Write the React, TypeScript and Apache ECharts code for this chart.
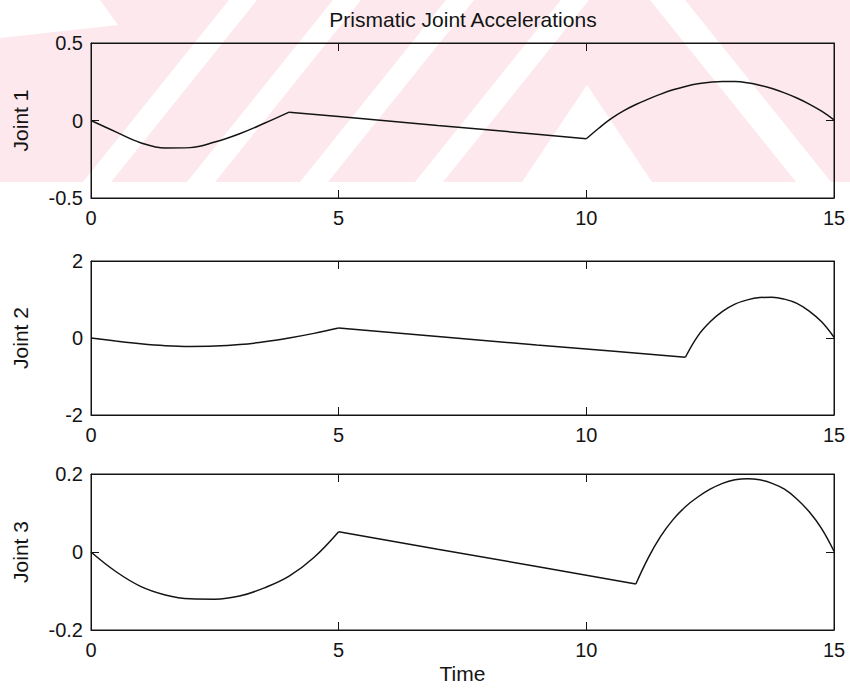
import React, { useEffect, useRef } from "react";
import * as echarts from "echarts";

// ---- data ----
const titleText = "Prismatic Joint Accelerations";
const jointNames = ["Joint 1", "Joint 2", "Joint 3"];
const xTicks = [0, 5, 10, 15];
const yLimits = [0.5, 2, 0.2];

const timeJ1 = [0, 0.5, 1, 1.5, 2, 2.5, 3, 3.5, 4, 5, 6, 7, 8, 9, 10, 10.25, 10.5, 10.75, 11, 11.25, 11.5, 11.75, 12, 12.25, 12.5, 12.75, 13, 13.25, 13.5, 13.75, 14, 14.25, 14.5, 14.75, 15];
const accJ1 = [0, -0.073, -0.143, -0.177, -0.175, -0.139, -0.085, -0.018, 0.054, 0.026, -0.003, -0.032, -0.06, -0.089, -0.118, -0.05, 0.012, 0.062, 0.103, 0.138, 0.17, 0.198, 0.22, 0.237, 0.247, 0.252, 0.251, 0.243, 0.228, 0.206, 0.178, 0.145, 0.106, 0.06, 0.004];
const kinksJ1 = [4, 10];

const timeJ2 = [0, 0.5, 1, 1.5, 2, 2.5, 3, 3.5, 4, 4.5, 5, 7, 9, 10.5, 12, 12.25, 12.5, 12.75, 13, 13.25, 13.5, 13.75, 14, 14.25, 14.5, 14.75, 15];
const accJ2 = [0, -0.08, -0.15, -0.2, -0.22, -0.21, -0.17, -0.1, 0.0, 0.12, 0.26, 0.04, -0.18, -0.34, -0.5, 0.05, 0.42, 0.69, 0.88, 0.99, 1.05, 1.06, 1.01, 0.9, 0.7, 0.42, 0.02];
const kinksJ2 = [5, 12];

const timeJ3 = [0, 0.5, 1, 1.5, 2, 2.5, 3, 3.5, 4, 4.5, 5, 7, 9, 11, 11.25, 11.5, 11.75, 12, 12.25, 12.5, 12.75, 13, 13.25, 13.5, 13.75, 14, 14.25, 14.5, 14.75, 15];
const accJ3 = [0, -0.05, -0.088, -0.11, -0.12, -0.121, -0.113, -0.092, -0.062, -0.014, 0.052, 0.007, -0.037, -0.082, -0.015, 0.04, 0.083, 0.116, 0.141, 0.161, 0.176, 0.185, 0.188, 0.185, 0.176, 0.161, 0.136, 0.103, 0.06, 0.002];
const kinksJ3 = [5, 11];

const times = [timeJ1, timeJ2, timeJ3];
const accs = [accJ1, accJ2, accJ3];
const kinks = [kinksJ1, kinksJ2, kinksJ3];

// ---- layout ----
const FONT = "'Liberation Sans', Arial, Helvetica, sans-serif";
const INK = "#141414";
const GRID_LEFT = 91;
const GRID_WIDTH = 743;
const gridTops = [43, 261, 474];
const gridHeights = [155, 154, 156];

function segments(t: number[], v: number[], k: number[]) {
  const pts = t.map((x, i) => [x, v[i]]);
  const a = pts.filter((p) => p[0] <= k[0]);
  const b = pts.filter((p) => p[0] >= k[0] && p[0] <= k[1]);
  const c = pts.filter((p) => p[0] >= k[1]);
  return [
    { data: a, smooth: 0.4 },
    { data: b, smooth: false },
    { data: c, smooth: 0.4 },
  ];
}

function watermark() {
  const pink = "#fde9ed";
  const white = "#ffffff";
  const els: any[] = [];
  els.push({ type: "rect", silent: true, z: -10, shape: { x: 0, y: 0, width: 850, height: 182 }, style: { fill: pink } });
  const poly = (pts: number[][]) =>
    els.push({ type: "polygon", silent: true, z: -9, shape: { points: pts }, style: { fill: white } });
  poly([[0, 0], [100, 0], [118, 25], [0, 38]]);
  [83, 187, 300, 415].forEach((b) => poly([[b, 182], [b + 28, 182], [b + 174, 0], [b + 146, 0]]));
  poly([[587, 85], [522, 182], [652, 182]]);
  poly([[650, 0], [685, 0], [831, 182], [796, 182]]);
  return els;
}

export default function App() {
  const ref = useRef<HTMLDivElement>(null);
  useEffect(() => {
    if (!ref.current) return;
    const chart = echarts.init(ref.current, undefined, { renderer: "svg" });
    const grids = gridTops.map((top, i) => ({
      left: GRID_LEFT,
      width: GRID_WIDTH,
      top,
      height: gridHeights[i],
      show: true,
      borderColor: INK,
      borderWidth: 1,
      backgroundColor: "transparent",
      z: 1,
    }));
    const tickStyle = { show: true, inside: true, length: 8, lineStyle: { color: INK, width: 1 } };
    const edgeLine = { show: true, onZero: false, lineStyle: { color: INK, width: 1 } };
    const xAxes: any[] = [];
    const yAxes: any[] = [];
    gridTops.forEach((_, i) => {
      xAxes.push({
        gridIndex: i,
        type: "value",
        position: "bottom",
        min: xTicks[0],
        max: xTicks[xTicks.length - 1],
        interval: xTicks[1] - xTicks[0],
        axisLine: edgeLine,
        axisTick: tickStyle,
        splitLine: { show: false },
        axisLabel: { fontSize: 20, color: INK, margin: 10, fontFamily: FONT },
        name: i === 2 ? "Time" : "",
        nameLocation: "middle",
        nameGap: 33,
        nameTextStyle: { fontSize: 21, color: INK, fontFamily: FONT },
      });
      xAxes.push({
        gridIndex: i,
        type: "value",
        position: "top",
        min: xTicks[0],
        max: xTicks[xTicks.length - 1],
        interval: xTicks[1] - xTicks[0],
        axisLine: edgeLine,
        axisTick: tickStyle,
        splitLine: { show: false },
        axisLabel: { show: false },
      });
      const lim = yLimits[i];
      yAxes.push({
        gridIndex: i,
        type: "value",
        position: "left",
        min: -lim,
        max: lim,
        interval: lim,
        axisLine: edgeLine,
        axisTick: tickStyle,
        splitLine: { show: false },
        axisLabel: { fontSize: 20, color: INK, margin: 8, fontFamily: FONT },
        name: jointNames[i],
        nameLocation: "middle",
        nameGap: 60,
        nameTextStyle: { fontSize: 21, color: INK, fontFamily: FONT },
      });
      yAxes.push({
        gridIndex: i,
        type: "value",
        position: "right",
        min: -lim,
        max: lim,
        interval: lim,
        axisLine: edgeLine,
        axisTick: tickStyle,
        splitLine: { show: false },
        axisLabel: { show: false },
      });
    });
    const series: any[] = [];
    times.forEach((t, i) => {
      segments(t, accs[i], kinks[i]).forEach((seg) => {
        series.push({
          type: "line",
          xAxisIndex: i * 2,
          yAxisIndex: i * 2,
          data: seg.data,
          smooth: seg.smooth,
          showSymbol: false,
          symbol: "none",
          lineStyle: { color: INK, width: 1.5 },
          z: 3,
        });
      });
    });
    chart.setOption({
      animation: false,
      backgroundColor: "#ffffff",
      grid: grids,
      xAxis: xAxes,
      yAxis: yAxes,
      series,
      graphic: [
        ...watermark(),
        {
          type: "text",
          x: 463,
          y: 19,
          z: 5,
          style: { text: titleText, fontSize: 21, fill: INK, fontFamily: FONT, textAlign: "center", textVerticalAlign: "middle" },
        },
      ],
    });
    return () => chart.dispose();
  }, []);
  return <div ref={ref} style={{ position: "fixed", left: 0, top: 0, width: 850, height: 688 }} />;
}
